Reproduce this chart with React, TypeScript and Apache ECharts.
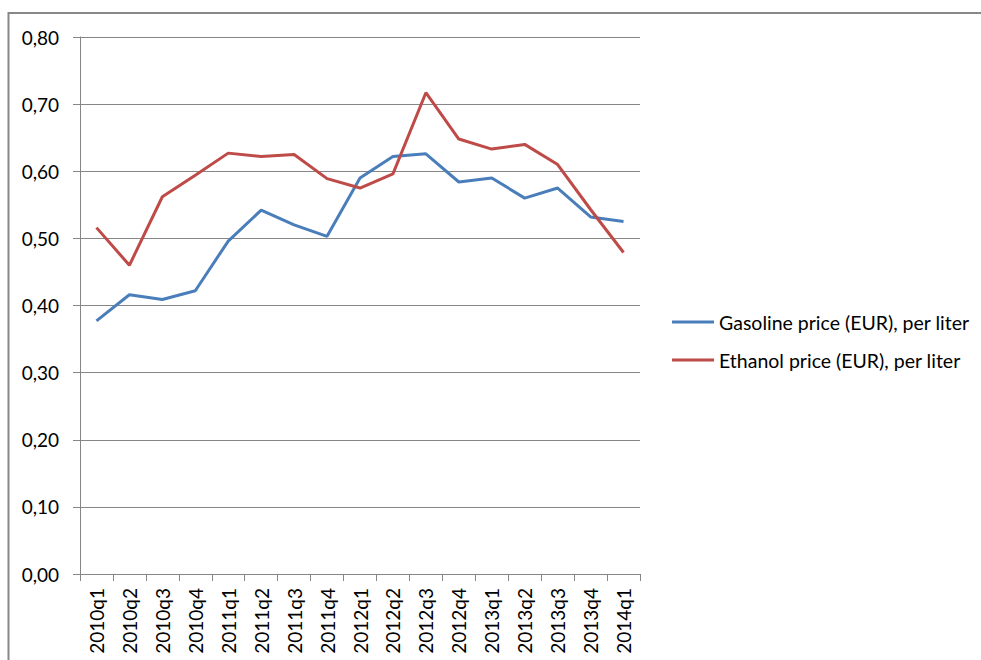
import React, { useEffect, useRef } from "react";
import * as echarts from "echarts";

const quarters = [
  "2010q1", "2010q2", "2010q3", "2010q4",
  "2011q1", "2011q2", "2011q3", "2011q4",
  "2012q1", "2012q2", "2012q3", "2012q4",
  "2013q1", "2013q2", "2013q3", "2013q4",
  "2014q1",
];

const gasolinePrice = [
  0.377, 0.416, 0.409, 0.422,
  0.496, 0.542, 0.520, 0.503,
  0.590, 0.622, 0.626, 0.584,
  0.590, 0.560, 0.575, 0.532,
  0.525,
];

const ethanolPrice = [
  0.516, 0.460, 0.562, 0.594,
  0.627, 0.622, 0.625, 0.589,
  0.575, 0.596, 0.717, 0.648,
  0.633, 0.640, 0.610, 0.543,
  0.479,
];

const seriesNames = [
  "Gasoline price (EUR), per liter",
  "Ethanol price (EUR), per liter",
];

const FONT = "Lato";
const TEXT = "#000000";
const GRID_GRAY = "#868686";

export default function App() {
  const ref = useRef<HTMLDivElement>(null);

  useEffect(() => {
    if (!ref.current) return;
    const chart = echarts.init(ref.current, null, { renderer: "svg" });
    chart.setOption({
      animation: false,
      backgroundColor: "#ffffff",
      textStyle: { fontFamily: FONT },
      graphic: [
        {
          type: "rect",
          shape: { x: 8.5, y: 13, width: 1000, height: 700 },
          style: { fill: "none", stroke: "#888888", lineWidth: 2 },
          silent: true,
        },
      ],
      grid: { left: 80, top: 37, right: 341, bottom: 86, containLabel: false },
      legend: {
        orient: "vertical",
        left: 672,
        top: 312,
        padding: 0,
        itemWidth: 42,
        itemHeight: 3,
        itemGap: 18,
        icon: "rect",
        textStyle: { fontFamily: FONT, fontSize: 19.5, color: TEXT, lineHeight: 20 },
        data: seriesNames,
      },
      xAxis: {
        type: "category",
        data: quarters,
        boundaryGap: true,
        axisLine: { lineStyle: { color: GRID_GRAY, width: 1 } },
        axisTick: { show: true, length: 7, alignWithLabel: false, lineStyle: { color: GRID_GRAY } },
        axisLabel: {
          rotate: 90,
          margin: 14,
          interval: 0,
          fontFamily: FONT,
          fontSize: 19,
          color: TEXT,
        },
        splitLine: { show: false },
      },
      yAxis: {
        type: "value",
        min: 0,
        max: 0.8,
        interval: 0.1,
        axisLine: { show: true, lineStyle: { color: GRID_GRAY, width: 1 } },
        axisTick: { show: true, length: 7, lineStyle: { color: GRID_GRAY } },
        axisLabel: {
          margin: 21,
          fontFamily: FONT,
          fontSize: 19,
          color: TEXT,
          formatter: (v: number) => v.toFixed(2).replace(".", ","),
        },
        splitLine: { show: true, lineStyle: { color: GRID_GRAY, width: 1 } },
      },
      series: [
        {
          name: seriesNames[0],
          type: "line",
          data: gasolinePrice,
          symbol: "none",
          lineStyle: { color: "#4A7EBB", width: 3 },
          itemStyle: { color: "#4A7EBB" },
        },
        {
          name: seriesNames[1],
          type: "line",
          data: ethanolPrice,
          symbol: "none",
          lineStyle: { color: "#BE4B48", width: 3 },
          itemStyle: { color: "#BE4B48" },
        },
      ],
    });
    return () => chart.dispose();
  }, []);

  return (
    <div
      ref={ref}
      style={{ position: "fixed", left: 0, top: 0, width: 981, height: 660 }}
    />
  );
}
